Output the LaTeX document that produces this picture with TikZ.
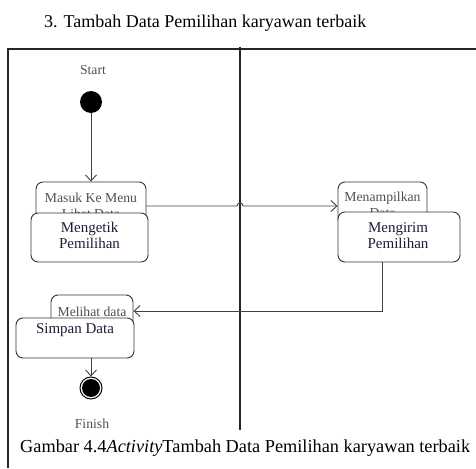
\documentclass[tikz,border=0pt]{standalone}
\usepackage{fontspec}
\setmainfont{Liberation Serif}
\usetikzlibrary{arrows.meta}
\definecolor{lblgray}{HTML}{505050}
\definecolor{txtdark}{HTML}{1C1C38}
\begin{document}
\begin{tikzpicture}[x=1pt,y=-1pt,
  lane/.style={line width=1.1pt,draw=black!85},
  backbox/.style={draw=black!80,line width=0.9pt,rounded corners=7pt,fill=white,inner sep=0pt},
  frontbox/.style={draw=black!80,line width=0.9pt,rounded corners=7pt,fill=white,inner sep=0pt},
  backtxt/.style={text=lblgray,font=\fontsize{13.7}{16}\selectfont,inner sep=0pt,anchor=base},
  fronttxt/.style={text=txtdark,font=\fontsize{15}{18}\selectfont,inner sep=0pt,anchor=base},
  flow/.style={draw=black!75,line width=0.9pt,-{Straight Barb[length=6pt,width=11pt,line width=0.9pt]}},
  lbl/.style={text=lblgray,font=\fontsize{13.7}{16}\selectfont,inner sep=0pt,anchor=base}
]
\useasboundingbox (0,0) rectangle (476,468);
% title
\node[font=\fontsize{18}{20}\selectfont,anchor=base west,inner sep=0pt] (title) at (44,28) {3. Tambah Data Pemilihan karyawan terbaik};
% swimlane frame
\coordinate (tl) at (8,49);
\coordinate (tr) at (476,49);
\coordinate (bl) at (8,468);
\coordinate (dt) at (240,47);
\coordinate (db) at (240,430);
\draw[lane] (bl) -- (tl) -- (tr);
\draw[lane] (dt) -- (db);
% start
\node[lbl] (startl) at (93,75) {Start};
\node[circle,fill=black,minimum size=22pt,inner sep=0pt] (start) at (91,102) {};
% left activity 1
\node[backbox,minimum width=110pt,minimum height=44pt] (ma) at (91,204) {};
\node[backtxt] (matxt) at (91,202) {Masuk Ke Menu};
\node[backtxt] (matxtb) at (91,218) {Lihat Data};
\node[frontbox,minimum width=117pt,minimum height=49pt] (mg) at (89.5,237.5) {};
\node[fronttxt] (mgtxt) at (89.5,232) {Mengetik};
\node[fronttxt] (mgtxtb) at (89.5,248) {Pemilihan};
% right activity
\node[backbox,minimum width=89pt,minimum height=44pt] (mp) at (382.5,204) {};
\node[backtxt] (mptxt) at (382.5,201) {Menampilkan};
\node[backtxt] (mptxtb) at (382.5,217) {Data};
\node[frontbox,minimum width=122pt,minimum height=50pt] (mk) at (399,237) {};
\node[fronttxt] (mktxt) at (398,232) {Mengirim};
\node[fronttxt] (mktxtb) at (398,248) {Pemilihan};
% left activity 2
\node[backbox,minimum width=82pt,minimum height=40pt] (ml) at (92,315) {};
\node[backtxt] (mltxt) at (92,316) {Melihat data};
\node[frontbox,minimum width=118pt,minimum height=40pt] (sd) at (75,338) {};
\node[fronttxt] (sdtxt) at (75,333) {Simpan Data};
% finish
\node[circle,fill=black,minimum size=18pt,inner sep=0pt] (fin) at (91,388) {};
\node[circle,draw=black,line width=1pt,minimum size=22pt,inner sep=0pt] (finr) at (91,388) {};
\node[lbl] (finl) at (92,428) {Finish};
% caption
\node[font=\fontsize{18.3}{20}\selectfont,anchor=base west,inner sep=0pt] (cap) at (20,452) {Gambar 4.4\textit{Activity}Tambah Data Pemilihan karyawan terbaik};
% connectors
\draw[flow] (start.south) -- (ma.north);
\coordinate (j1) at (237,206);
\coordinate (j2) at (243,206);
\draw[flow] (ma.east |- 0,206) -- (j1) .. controls (237,202) and (243,202) .. (j2) -- (mp.west |- 0,206);
\coordinate (c1) at (382,311);
\draw[flow] (mk.south -| 382,0) -- (c1) -- (ml.east |- c1);
\draw[flow] (sd.south -| fin.north) -- (finr.north);
\end{tikzpicture}
\end{document}
